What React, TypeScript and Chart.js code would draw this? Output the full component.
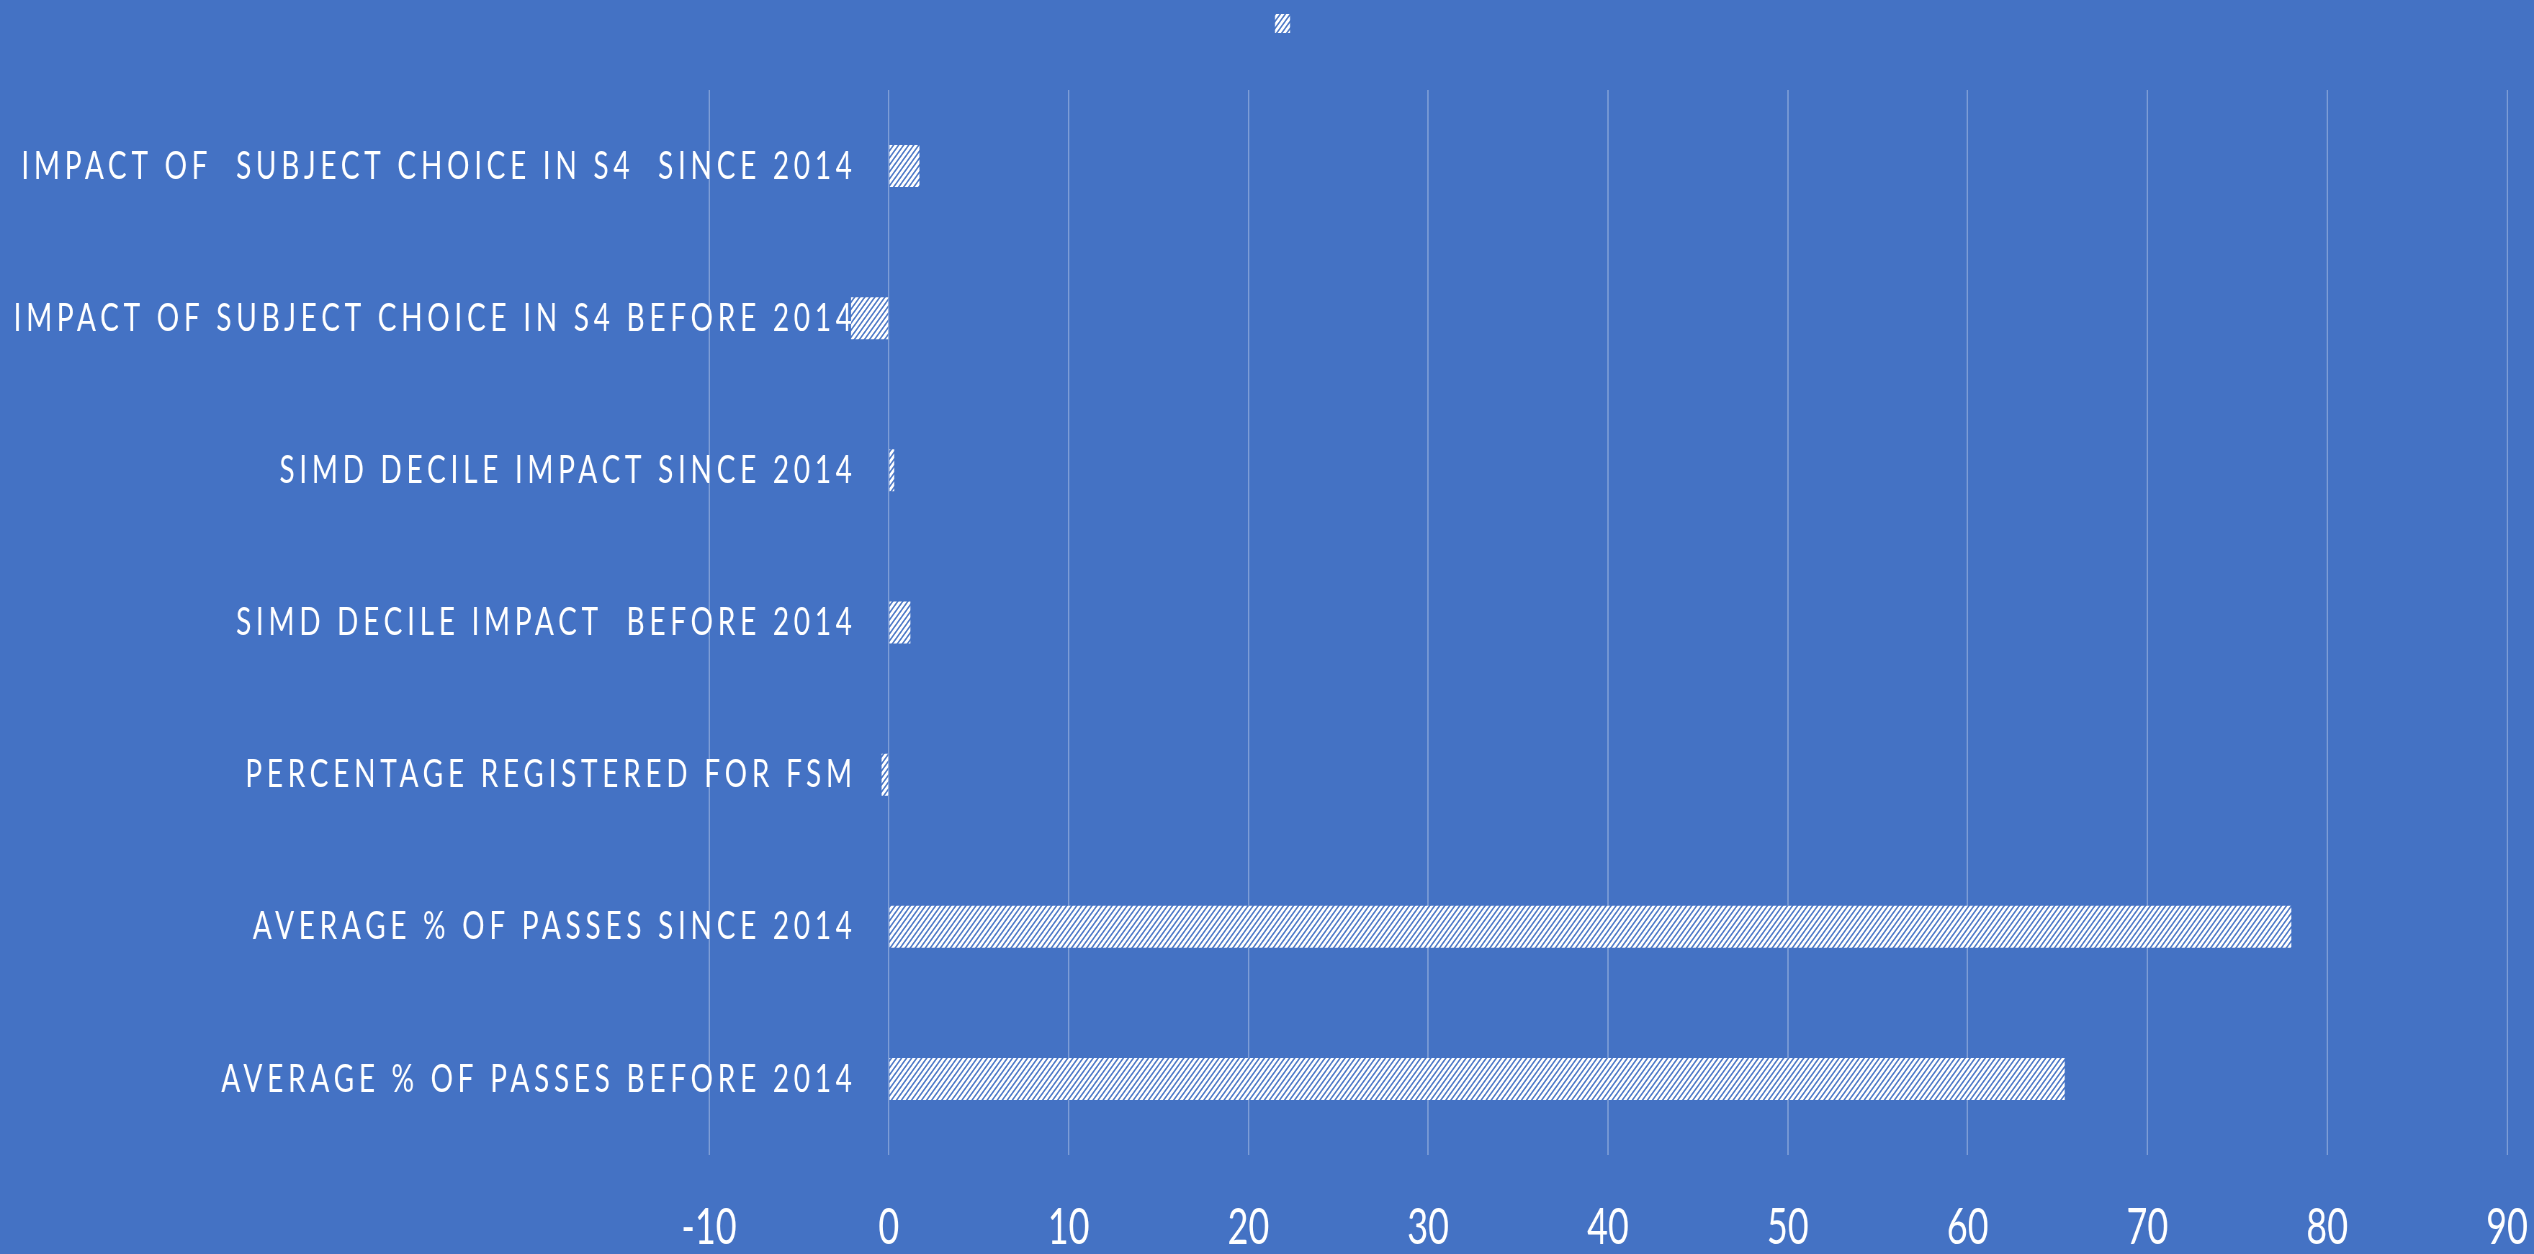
import React, { useEffect, useRef } from 'react';
import { Chart, registerables } from 'chart.js';

Chart.register(...registerables);

// ---------- data ----------
const categories = [
  'IMPACT OF  SUBJECT CHOICE IN S4  SINCE 2014',
  'IMPACT OF SUBJECT CHOICE IN S4 BEFORE 2014',
  'SIMD DECILE IMPACT SINCE 2014',
  'SIMD DECILE IMPACT  BEFORE 2014',
  'PERCENTAGE REGISTERED FOR FSM',
  'AVERAGE % OF PASSES SINCE 2014',
  'AVERAGE % OF PASSES BEFORE 2014',
];
const values = [1.7, -2.1, 0.3, 1.2, -0.4, 78.0, 65.4];
const seriesLabel = '';
const xMin = -10;
const xMax = 90;
const xStep = 10;

// ---------- look ----------
const BG = '#4472C4';
const W = 2534;
const H = 1254;
const SQUEEZE = 0.72; // text in the reference is horizontally condensed
const IW = Math.round(W / SQUEEZE);
const F = W / IW;

const FONT = 'Lato';
const LABEL_SIZE = 39;
const LABEL_SPACING = 6.5;
const TICK_SIZE = 50;
const TICK_CENTER_OFFSET = 73; // from plot bottom to middle of tick text

// target positions (displayed pixels) converted to internal canvas pixels
const AREA_LEFT = 709 / F;
const PAD_R = (W - 2507) / F;
const AREA_BOTTOM = 1155;
const LEGEND_FONT = 113;
const LEGEND_BOX_W = 15 / F;
const LABEL_RIGHT = 852 / F;

function makeHatch(): CanvasPattern | string {
  const c = document.createElement('canvas');
  const s = 7;
  c.width = s;
  c.height = s;
  const g = c.getContext('2d');
  if (!g) return '#ffffff';
  g.fillStyle = '#ffffff';
  g.fillRect(0, 0, s, s);
  g.strokeStyle = BG;
  g.lineWidth = 1.7;
  g.beginPath();
  g.moveTo(0, s);
  g.lineTo(s, 0);
  g.moveTo(-1, 1);
  g.lineTo(1, -1);
  g.moveTo(s - 1, s + 1);
  g.lineTo(s + 1, s - 1);
  g.stroke();
  const p = g.createPattern(c, 'repeat');
  return p || '#ffffff';
}

function widestLabel(): number {
  const c = document.createElement('canvas');
  const g = c.getContext('2d');
  if (!g) return 0;
  g.font = `normal ${LABEL_SIZE}px ${FONT}`;
  let w = 0;
  categories.forEach((t) => {
    w = Math.max(w, g.measureText(t).width);
  });
  return w;
}

const spacingPlugin = {
  id: 'labelSpacing',
  afterDatasetsDraw(chart: any) {
    chart.ctx.letterSpacing = LABEL_SPACING + 'px';
  },
  afterDraw(chart: any) {
    chart.ctx.letterSpacing = '0px';
  },
};

export default function App() {
  const ref = useRef<HTMLCanvasElement | null>(null);

  useEffect(() => {
    if (!ref.current) return;
    const hatch = makeHatch();
    // legend box centre = centre of legend span - LEGEND_FONT/4 (item = box + font/2)
    const boxCenterInt = 1282.5 / F;
    const legendCenter = boxCenterInt + LEGEND_FONT / 4;
    const padLeft = 2 * legendCenter - (IW - PAD_R);
    const yWidth = AREA_LEFT - padLeft;
    const yPad = LABEL_RIGHT + LABEL_SPACING - AREA_LEFT - widestLabel();

    const chart = new Chart(ref.current, {
      type: 'bar',
      data: {
        labels: categories,
        datasets: [
          {
            label: seriesLabel,
            data: values,
            backgroundColor: hatch as any,
            borderWidth: 0,
            barPercentage: 0.276,
            categoryPercentage: 1,
          },
        ],
      },
      plugins: [spacingPlugin],
      options: {
        indexAxis: 'y',
        responsive: false,
        animation: false,
        devicePixelRatio: 1,
        layout: { padding: { left: padLeft, right: PAD_R, top: 0, bottom: 0 } },
        scales: {
          x: {
            type: 'linear',
            position: 'bottom',
            min: xMin,
            max: xMax,
            ticks: {
              stepSize: xStep,
              color: '#ffffff',
              font: { family: FONT, size: TICK_SIZE, lineHeight: (2 * TICK_CENTER_OFFSET) / TICK_SIZE },
              padding: 0,
              maxRotation: 0,
              autoSkip: false,
            },
            grid: { color: 'rgba(255,255,255,0.3)', lineWidth: 2, drawTicks: false },
            border: { display: false },
            afterFit: (s: any) => {
              s.height = H - AREA_BOTTOM;
            },
          },
          y: {
            type: 'category',
            position: 'left',
            grid: { display: false, drawTicks: false },
            border: { display: false },
            ticks: {
              color: '#ffffff',
              font: { family: FONT, size: LABEL_SIZE },
              mirror: true,
              crossAlign: 'far',
              padding: yPad,
              autoSkip: false,
              z: 1,
            },
            afterFit: (s: any) => {
              s.width = yWidth;
            },
          },
        },
        plugins: {
          legend: {
            display: true,
            position: 'top',
            labels: {
              boxWidth: LEGEND_BOX_W,
              boxHeight: 19,
              padding: -33,
              color: '#ffffff',
              font: { family: FONT, size: LEGEND_FONT },
            },
          },
          tooltip: { enabled: false },
        },
      } as any,
    });
    return () => chart.destroy();
  }, []);

  return (
    <div style={{ position: 'fixed', left: 0, top: 0, width: W, height: H, background: BG }}>
      <canvas
        ref={ref}
        width={IW}
        height={H}
        style={{ width: W + 'px', height: H + 'px', display: 'block' }}
      />
    </div>
  );
}
